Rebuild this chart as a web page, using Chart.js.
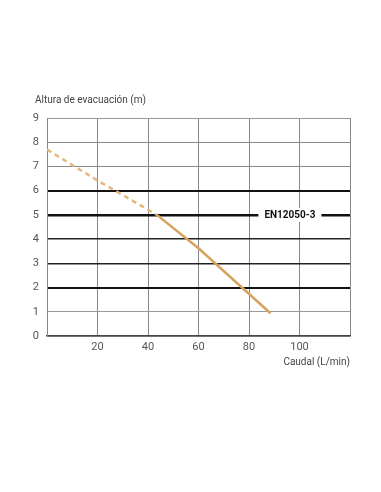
<!DOCTYPE html>
<html>
<head>
<meta charset="utf-8">
<script src="https://cdn.jsdelivr.net/npm/chart.js@4"></script>
<style>
  html, body { margin: 0; padding: 0; background: #fff; }
  #wrap { width: 381px; height: 492px; position: relative; }
</style>
</head>
<body>
<div id="wrap"><canvas id="c" width="381" height="492"></canvas></div>
<script>
// Data
const flowDashed = [0, 20, 43.5];
const headDashed = [7.7, 6.42, 5.0];
const flowSolid = [43.5, 60, 88.5];
const headSolid = [5.0, 3.62, 0.94];
const xTicks = [20, 40, 60, 80, 100];
const yTicks = [0, 1, 2, 3, 4, 5, 6, 7, 8, 9];
const standardLabel = 'EN12050-3';
const standardHead = 5;
const yTitle = 'Altura de evacuación (m)';
const xTitle = 'Caudal (L/min)';

const toPts = (xs, ys) => xs.map((x, i) => ({ x: x, y: ys[i] }));

const gridWidth = { 0: 1.5, 1: 1, 2: 2, 3: 1.5, 4: 1.5, 5: 2.5, 6: 2, 7: 1, 8: 1, 9: 1 };
const gridColor = { 0: '#444', 1: '#999', 2: '#111', 3: '#222', 4: '#222', 5: '#111', 6: '#111', 7: '#888', 8: '#888', 9: '#999' };

const overlay = {
  id: 'overlay',
  afterDatasetsDraw(chart) {
    const ctx = chart.ctx;
    const xs = chart.scales.x, ys = chart.scales.y;
    const cx = xs.getPixelForValue(96.2);
    const cy = ys.getPixelForValue(standardHead);
    ctx.save();
    ctx.font = 'bold 10px Roboto';
    const w = ctx.measureText(standardLabel).width;
    ctx.fillStyle = '#fff';
    ctx.fillRect(cx - w / 2 - 6, cy - 7, w + 12, 14);
    ctx.fillStyle = '#111';
    ctx.textAlign = 'center';
    ctx.textBaseline = 'middle';
    ctx.fillText(standardLabel, cx, cy + 0.5);
    ctx.font = '10px Roboto';
    ctx.fillStyle = '#444';
    ctx.textAlign = 'left';
    ctx.textBaseline = 'middle';
    ctx.fillText(yTitle, 35, 100);
    ctx.textAlign = 'right';
    ctx.fillText(xTitle, chart.chartArea.right, 362);
    ctx.restore();
  }
};

new Chart(document.getElementById('c'), {
  type: 'line',
  data: {
    datasets: [
      {
        data: toPts(flowDashed, headDashed),
        borderColor: '#e2bb7c',
        borderWidth: 2.5,
        borderDash: [5, 4],
        pointRadius: 0,
        tension: 0
      },
      {
        data: toPts(flowSolid, headSolid),
        borderColor: '#d6a35e',
        borderWidth: 2.5,
        pointRadius: 0,
        tension: 0
      }
    ]
  },
  options: {
    responsive: false,
    animation: false,
    layout: { padding: { top: 118, right: 31, left: 0, bottom: 0 } },
    plugins: { legend: { display: false }, tooltip: { enabled: false } },
    scales: {
      x: {
        type: 'linear',
        min: 0, max: 120,
        afterFit(s) { s.height = 156; },
        afterBuildTicks(s) { s.ticks = [0, ...xTicks, 120].map(v => ({ value: v })); },
        ticks: {
          callback: v => (xTicks.includes(v) ? String(v) : ''),
          font: { family: 'Roboto', size: 11 },
          color: '#555',
          padding: 5,
          maxRotation: 0
        },
        grid: { color: '#888', lineWidth: 1, drawTicks: false, tickLength: 0 },
        border: { color: '#444', width: 1.5 }
      },
      y: {
        min: 0, max: 9,
        afterFit(s) { s.width = 47; },
        afterBuildTicks(s) { s.ticks = yTicks.map(v => ({ value: v })); },
        ticks: {
          font: { family: 'Roboto', size: 11 },
          color: '#555',
          padding: 8
        },
        grid: {
          drawTicks: false,
          tickLength: 0,
          lineWidth: c => gridWidth[c.tick.value] ?? 1,
          color: c => gridColor[c.tick.value] ?? '#888'
        },
        border: { color: '#888', width: 1 }
      }
    }
  },
  plugins: [overlay]
});
</script>
</body>
</html>
